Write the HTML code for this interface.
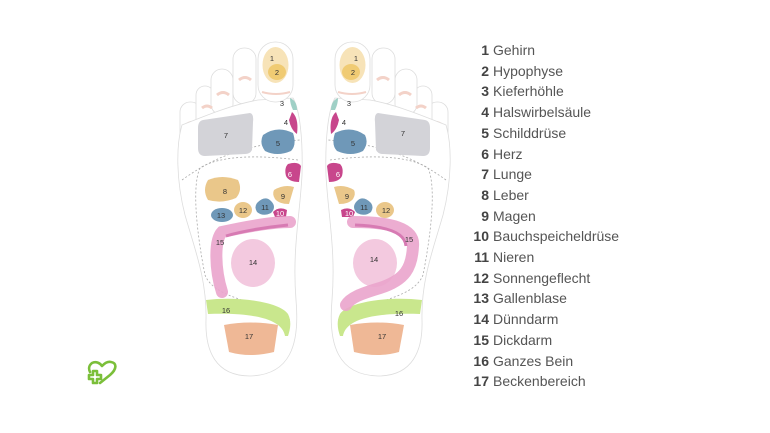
<!DOCTYPE html>
<html><head><meta charset="utf-8"><style>
html,body{margin:0;padding:0;background:#fff;}
body{width:770px;height:433px;overflow:hidden;position:relative;font-family:"Liberation Sans",sans-serif;}
.leg{position:absolute;left:470px;top:40px;font-size:14px;color:#555;line-height:20.7px;}
.leg div{white-space:nowrap;}
.leg b{display:inline-block;width:19px;text-align:right;margin-right:4px;font-weight:bold;color:#444;}
</style></head><body>
<svg width="770" height="433" style="position:absolute;left:0;top:0">
<defs>
<g id="foot">
  <rect x="180" y="102" width="21" height="40" rx="10" fill="#fff" stroke="#ddd" stroke-width="0.8"/>
  <rect x="196" y="86" width="18" height="42" rx="9" fill="#fff" stroke="#ddd" stroke-width="0.8"/>
  <rect x="211" y="69" width="22" height="46" rx="11" fill="#fff" stroke="#ddd" stroke-width="0.8"/>
  <rect x="233" y="48" width="23" height="56" rx="11" fill="#fff" stroke="#ddd" stroke-width="0.8"/>
  <path d="M186 125 q6 -5 12 0 M202 108 q5 -4 10 0 M217 95 q6 -5 12 0 M239 80 q6 -5 12 0" stroke="#f3d2c8" stroke-width="3" fill="none"/>
  <path d="M182 125 C200 118 230 105 258 100 L293 98 C300 110 303 140 302 175 C300 215 292 250 296 300 C300 345 290 375 250 376 C215 376 205 350 206 320 C207 280 195 250 185 215 C176 180 176 145 182 125 Z" fill="#fff" stroke="#ddd" stroke-width="0.8"/>
  <rect x="258" y="42" width="35" height="60" rx="17" fill="#fff" stroke="#ddd" stroke-width="0.8"/>
  <ellipse cx="275.5" cy="65" rx="13" ry="18" fill="#f7e3b8"/>
  <ellipse cx="277" cy="72" rx="9" ry="8" fill="#f0cb73"/>
  <path d="M262 92 q14 4 28 0" stroke="#f3d2c8" stroke-width="2" fill="none"/>
  <path d="M182 180 C210 160 240 145 300 140" stroke="#aaa" stroke-dasharray="2,2" fill="none" stroke-width="0.8"/>
  <path d="M298 160 C260 155 220 155 200 168 C190 190 200 250 205 275 C215 300 260 300 290 320" stroke="#aaa" stroke-dasharray="2,2" fill="none" stroke-width="0.8"/>
  <path d="M290 98 q7 3 7 12 l-4 0 q-3 -6 -3 -12z" fill="#9fd0c6"/>
  <path d="M292 112 q7 6 5 22 q-6 -4 -8 -14 z" fill="#c8468c"/>
  <path d="M203 120 L250 113 Q254 114 253 122 L252 150 Q250 154 245 154 L205 156 Q198 156 198 148 L198 128 Q198 121 203 120 Z" fill="#d3d3d8"/>
  <path d="M263 135 q14 -10 30 -2 q4 12 -2 18 q-14 6 -26 0 q-6 -8 -2 -16z" fill="#6f98b8"/>
  <path d="M288 164 q10 -3 13 2 l-2 16 q-10 0 -13 -6 q-2 -8 2 -12z" fill="#c8468c"/>
  <path d="M274 190 q10 -6 20 -3 l-5 17 q-10 0 -14 -5 q-3 -5 -1 -9z" fill="#eac78a"/>
  <ellipse cx="243" cy="210" rx="9" ry="8" fill="#eac78a"/>
  <path d="M257 203 q8 -8 14 -2 q6 6 0 12 q-8 4 -14 -1 q-3 -5 0 -9z" fill="#6f98b8"/>
  <path d="M273 212 q6 -6 14 -2 l-1 7 l-11 0 z" fill="#c8468c"/>
  <ellipse cx="253" cy="263" rx="22" ry="24" fill="#f3c9df"/>
  <path d="M206 300 C240 296 280 302 288 314 C292 322 290 330 288 336 L285 336 C283 325 270 312 208 314 Z" fill="#c9e78d"/>
  <path d="M224 325 Q250 320 278 325 L274 352 Q250 358 229 352 Z" fill="#efb896"/>
</g>
</defs>
<use href="#foot"/>
<use href="#foot" transform="translate(628,0) scale(-1,1)"/>
<!-- left only -->
<path d="M208 180 q14 -6 30 0 q5 10 -2 18 q-14 6 -28 2 q-6 -10 0 -20z" fill="#eac78a"/>
<ellipse cx="222" cy="215" rx="11" ry="7" fill="#6f98b8"/>
<path d="M290 222 C270 222 240 228 222 232 C214 240 215 270 222 292" stroke="#eaa4cc" stroke-width="12" fill="none" stroke-linecap="round" opacity="0.9"/>
<path d="M288 225 C268 227 242 231 226 236" stroke="#d77bb3" stroke-width="3" fill="none"/>
<!-- right only -->
<path d="M353 222 C390 222 415 228 413 246 C412 268 405 280 380 288 C360 294 350 298 346 305" stroke="#eaa4cc" stroke-width="12" fill="none" stroke-linecap="round" opacity="0.9"/>
<path d="M355 225 C385 226 405 232 406 246" stroke="#d77bb3" stroke-width="3" fill="none"/>
<g font-family="Liberation Sans,sans-serif" font-size="7.5" fill="#333" text-anchor="middle">
<text x="272" y="61">1</text><text x="277" y="75">2</text>
<text x="282" y="106">3</text><text x="286" y="125">4</text>
<text x="226" y="138">7</text><text x="278" y="146">5</text>
<text x="290" y="177" fill="#fff">6</text><text x="225" y="194">8</text>
<text x="283" y="199">9</text><text x="243" y="213">12</text>
<text x="265" y="210">11</text><text x="280" y="216" fill="#fff">10</text>
<text x="221" y="218">13</text><text x="220" y="245">15</text>
<text x="253" y="265">14</text><text x="226" y="313">16</text>
<text x="249" y="339">17</text>
<text x="356" y="61">1</text><text x="353" y="75">2</text>
<text x="349" y="106">3</text><text x="344" y="125">4</text>
<text x="403" y="136">7</text><text x="353" y="146">5</text>
<text x="338" y="177" fill="#fff">6</text>
<text x="347" y="199">9</text><text x="386" y="213">12</text>
<text x="364" y="210">11</text><text x="349" y="216" fill="#fff">10</text>
<text x="409" y="242">15</text><text x="374" y="262">14</text>
<text x="399" y="316">16</text><text x="382" y="339">17</text>
</g>
<g fill="none" stroke="#7bbf3a" stroke-width="2.6" stroke-linejoin="round" stroke-linecap="round">
<path d="M100 383 L110 375 C117 369 117 363 111 362 C107 361 104 364 102 366 C100 363 96 361 92 363 C88 366 89 370 90 372"/>
<path d="M93 371 h4 v4 h4 v4 h-4 v4 h-4 v-4 h-4 v-4 h4 z"/>
</g>
</svg>
<div class="leg">
<div><b>1</b>Gehirn</div>
<div><b>2</b>Hypophyse</div>
<div><b>3</b>Kieferhöhle</div>
<div><b>4</b>Halswirbelsäule</div>
<div><b>5</b>Schilddrüse</div>
<div><b>6</b>Herz</div>
<div><b>7</b>Lunge</div>
<div><b>8</b>Leber</div>
<div><b>9</b>Magen</div>
<div><b>10</b>Bauchspeicheldrüse</div>
<div><b>11</b>Nieren</div>
<div><b>12</b>Sonnengeflecht</div>
<div><b>13</b>Gallenblase</div>
<div><b>14</b>Dünndarm</div>
<div><b>15</b>Dickdarm</div>
<div><b>16</b>Ganzes Bein</div>
<div><b>17</b>Beckenbereich</div>
</div>
</body></html>
